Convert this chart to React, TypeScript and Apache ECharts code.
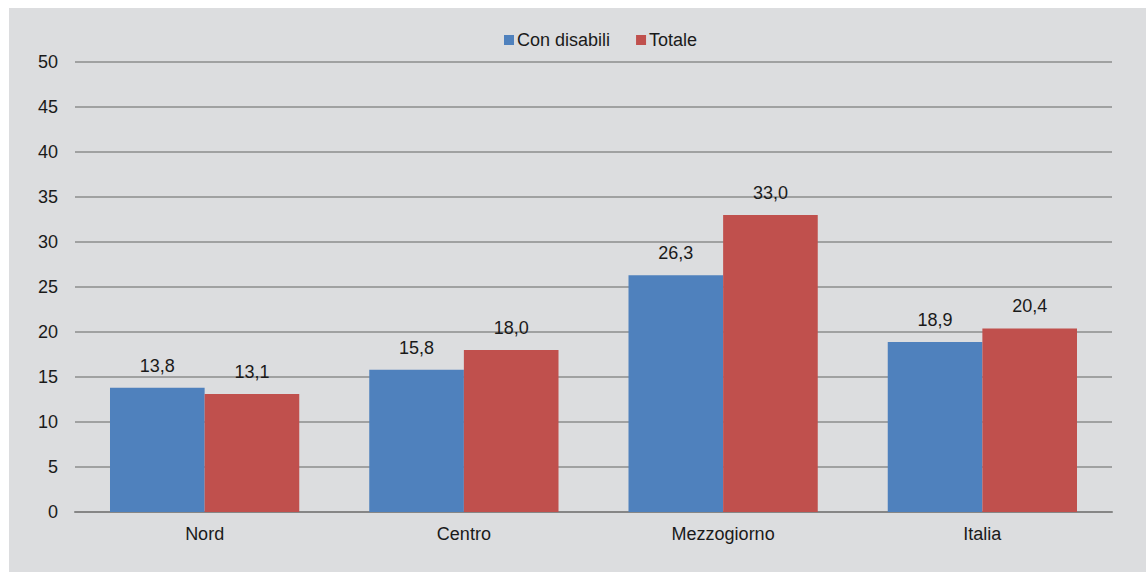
import React, { useEffect, useRef } from "react";
import * as echarts from "echarts";

const categories = ["Nord", "Centro", "Mezzogiorno", "Italia"];
const conDisabili = [13.8, 15.8, 26.3, 18.9];
const totale = [13.1, 18.0, 33.0, 20.4];
const seriesNames = ["Con disabili", "Totale"];

const FONT = "Liberation Sans, Arial, sans-serif";
const FS = 18;

export default function App() {
  const ref = useRef<HTMLDivElement>(null);
  useEffect(() => {
    if (!ref.current) return;
    const chart = echarts.init(ref.current, undefined, { renderer: "svg" });
    const label = {
      show: true,
      position: "top",
      distance: 13,
      color: "#1a1a1a",
      fontSize: FS,
      fontFamily: FONT,
      formatter: (p: any) => Number(p.value).toFixed(1).replace(".", ","),
    };
    chart.setOption({
      animation: false,
      backgroundColor: "#dcdddf",
      textStyle: { fontFamily: FONT },
      legend: {
        left: 490,
        top: 18,
        itemWidth: 10,
        itemHeight: 10,
        itemGap: 26,
        icon: "rect",
        textStyle: { fontSize: FS, color: "#1a1a1a", fontFamily: FONT, padding: [0, 0, 0, -2] },
        data: seriesNames,
      },
      grid: { left: 66, right: 34, top: 54, bottom: 60, containLabel: false },
      xAxis: {
        type: "category",
        data: categories,
        axisLine: { lineStyle: { color: "#868686", width: 2 } },
        axisTick: { show: false },
        axisLabel: { fontSize: FS, color: "#1a1a1a", margin: 13, fontFamily: FONT },
      },
      yAxis: {
        type: "value",
        min: 0,
        max: 50,
        interval: 5,
        axisLine: { show: false },
        axisTick: { show: false },
        axisLabel: { fontSize: FS, color: "#1a1a1a", margin: 17, fontFamily: FONT },
        splitLine: { lineStyle: { color: "#8c8c8c", width: 1.5 } },
      },
      series: [
        {
          name: seriesNames[0],
          type: "bar",
          data: conDisabili,
          itemStyle: { color: "#4f81bd" },
          barGap: "0%",
          barCategoryGap: "27%",
          label,
        },
        {
          name: seriesNames[1],
          type: "bar",
          data: totale,
          itemStyle: { color: "#c0504d" },
          barGap: "0%",
          barCategoryGap: "27%",
          label,
        },
      ],
    });
    return () => chart.dispose();
  }, []);
  return (
    <div
      ref={ref}
      style={{ position: "fixed", left: 9, top: 8, width: 1137, height: 564 }}
    />
  );
}
